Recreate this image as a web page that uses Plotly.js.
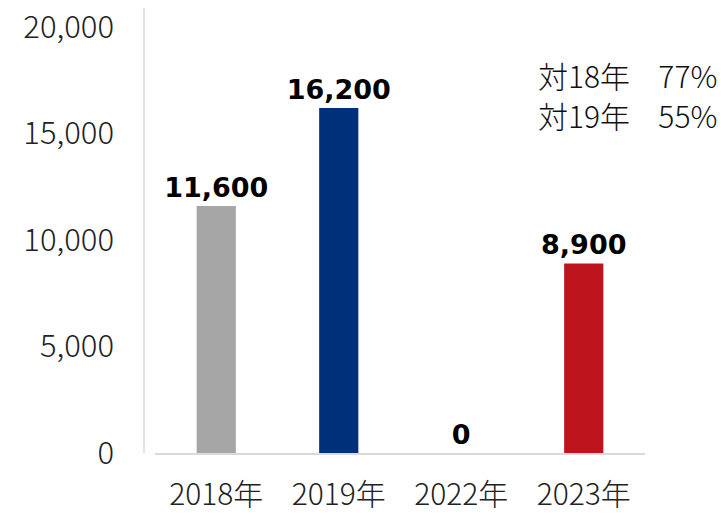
<!DOCTYPE html>
<html>
<head>
<meta charset="utf-8">
<script src="https://cdn.plot.ly/plotly-3.0.1.min.js"></script>
<style>html,body{margin:0;padding:0;background:#fff;}#chart{width:721px;height:515px;}</style>
</head>
<body>
<div id="chart"></div>
<script>
const categories = ["2018年", "2019年", "2022年", "2023年"];
const values = [11600, 16200, 0, 8900];
const valueLabels = ["11,600", "16,200", "0", "8,900"];
const barColors = ["#a6a6a6", "#00307a", "#ffffff", "#be141e"];
const yTickVals = [0, 5000, 10000, 15000, 20000];
const yTickText = ["0", "5,000", "10,000", "15,000", "20,000"];
const noteLines = ["対18年\u2002\u00a0\u00a077%", "対19年\u2002\u00a0\u00a055%"];

const font = "Noto Sans CJK JP, Noto Sans, sans-serif";

const trace = {
  type: "bar",
  x: categories,
  y: values,
  marker: { color: barColors },
  text: valueLabels,
  texttemplate: "<b>%{text}</b>",
  textposition: "outside",
  constraintext: "none",
  cliponaxis: false,
  textfont: { family: "DejaVu Sans, sans-serif", size: 27, color: "#000" },
  hoverinfo: "none"
};

const layout = {
  width: 721, height: 515,
  margin: { l: 155, r: 76, t: 8, b: 62 },
  paper_bgcolor: "#fff", plot_bgcolor: "#fff",
  showlegend: false,
  bargap: 0.68,
  font: { family: font, color: "#222" },
  xaxis: {
    type: "category",
    showgrid: false, zeroline: false,
    showline: true, linecolor: "#d9d9d9", linewidth: 2,
    ticks: "", tickfont: { size: 30, family: font, color: "#222", weight: 300 },
    ticklabelstandoff: 14
  },
  yaxis: {
    range: [0, 20890],
    tickvals: yTickVals, ticktext: yTickText,
    showgrid: false, zeroline: false, showline: false,
    ticks: "", tickfont: { size: 31, family: font, color: "#222", weight: 300 },
    ticklabelstandoff: 40
  },
  shapes: [{
    type: "line", xref: "paper", yref: "paper",
    x0: -11/490, x1: -11/490, y0: 0, y1: 1,
    line: { color: "#d9d9d9", width: 1.5 }
  }],
  annotations: noteLines.map((t, i) => ({
    xref: "paper", yref: "paper",
    x: 1.148, y: 1 - (0.15 + i * 0.09), xanchor: "right", yanchor: "middle",
    text: t, showarrow: false, borderpad: 0,
    font: { size: 30, family: font, color: "#111", weight: 300 }
  }))
};

Plotly.newPlot("chart", [trace], layout, { staticPlot: true, displayModeBar: false });
</script>
</body>
</html>
